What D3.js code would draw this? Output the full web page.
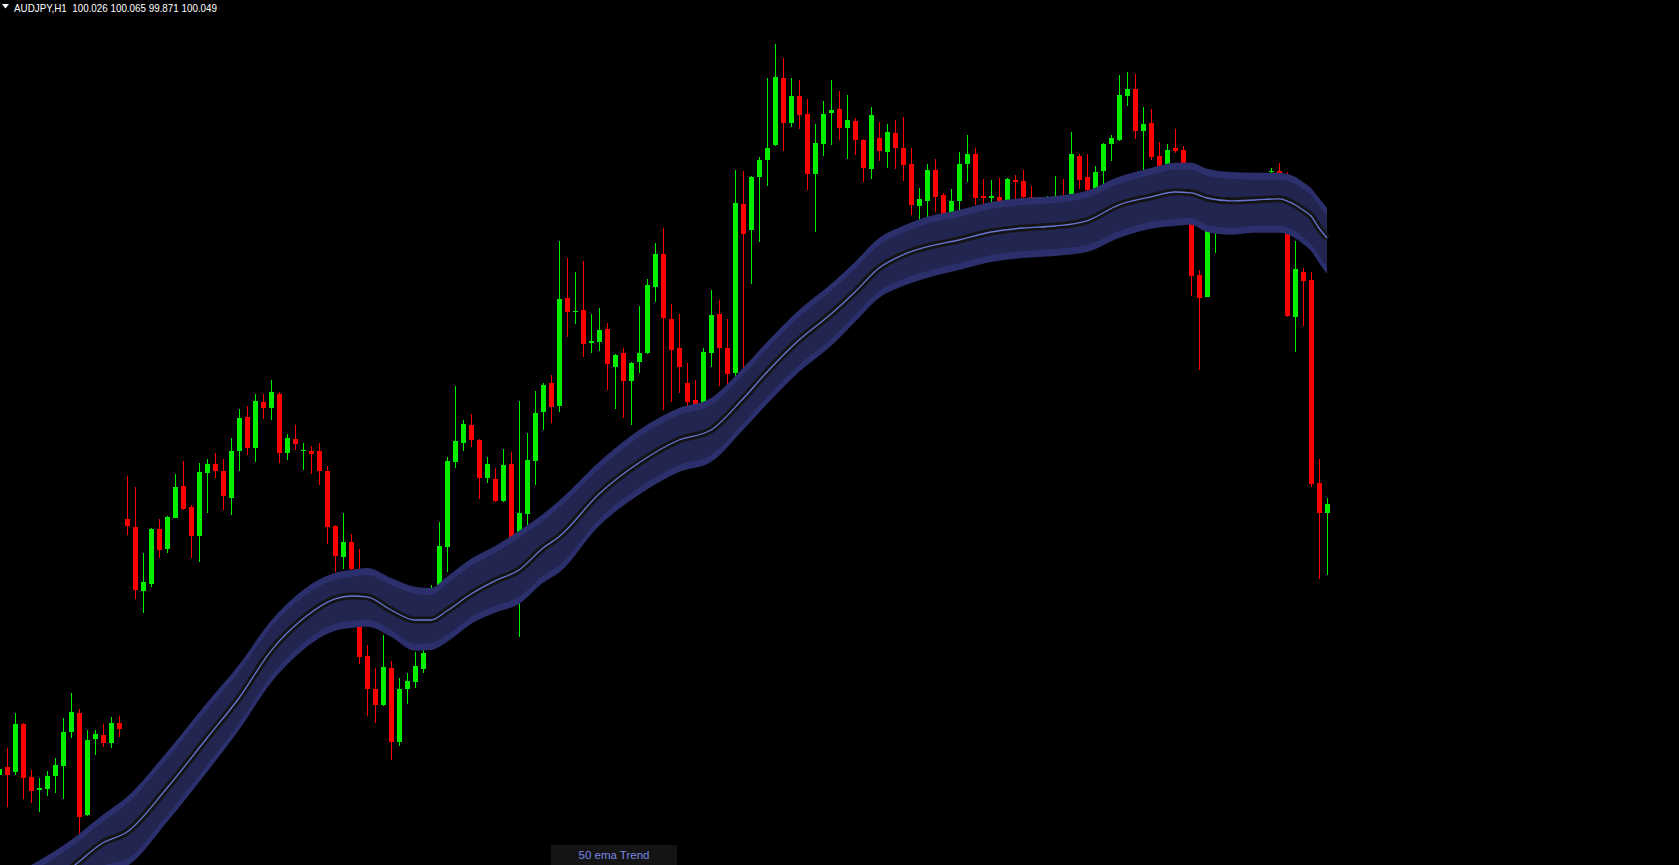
<!DOCTYPE html>
<html><head><meta charset="utf-8">
<script src="https://cdn.jsdelivr.net/npm/d3@7"></script>
<style>html,body{margin:0;padding:0;background:#000;overflow:hidden}</style>
</head><body>
<svg id="chart" width="1679" height="865"></svg>
<script>
const symbol = "AUDJPY,H1";
const indicatorName = "50 ema Trend";
const firstBar = -1;
const opens = [99.372,99.392,99.379,99.499,99.366,99.335,99.337,99.369,99.394,99.479,99.527,99.272,99.462,99.472,99.452,99.502,
100.012,99.992,99.832,99.850,99.987,99.937,100.015,100.094,100.042,99.970,100.127,100.149,100.132,100.065,100.182,100.267,100.190,100.304,100.290,100.324,100.177,100.212,100.182,100.182,100.182,100.132,99.995,
99.917,99.954,99.872,99.669,99.587,99.547,99.639,99.455,99.587,99.604,99.637,99.709,99.847,99.942,100.155,100.202,100.247,100.209,100.115,100.112,100.057,100.149,99.909,100.025,100.157,100.279,100.352,100.295,
100.564,100.530,100.534,100.452,100.455,100.487,100.392,100.427,100.357,100.405,100.427,100.592,100.674,100.512,100.440,100.352,100.309,100.297,100.427,100.524,100.439,100.377,100.799,100.734,100.867,100.909,
100.947,101.114,101.002,101.069,101.024,100.875,100.950,101.027,101.037,100.990,101.007,100.959,100.887,100.964,100.930,100.977,100.939,100.899,100.795,100.807,100.884,100.822,100.777,100.807,100.900,100.924,
100.819,100.815,100.817,100.807,100.859,100.857,100.817,100.802,100.797,100.816,100.809,100.824,100.919,100.867,100.837,100.882,100.950,100.960,101.070,101.087,100.982,101.002,100.919,100.897,100.939,100.934,
100.809,100.622,100.567,100.747,100.779,100.797,100.819,100.834,100.844,100.859,100.879,100.882,100.869,100.517,100.629,100.609,100.102,100.026];
const highs = [99.397,99.439,99.527,99.502,99.384,99.364,99.382,99.413,99.514,99.577,99.537,99.484,99.484,99.499,99.517,99.519,
100.119,100.092,99.927,99.989,100.012,100.019,100.124,100.157,100.047,100.152,100.162,100.177,100.162,100.214,100.287,100.294,100.324,100.324,100.359,100.329,100.224,100.247,100.202,100.194,100.202,100.144,99.997,
100.027,99.974,99.937,99.697,99.639,99.722,99.657,99.614,99.627,99.679,99.709,99.847,100.004,100.167,100.344,100.259,100.274,100.212,100.167,100.139,100.187,100.179,100.307,100.227,100.332,100.352,100.372,100.707,
100.664,100.629,100.657,100.524,100.539,100.502,100.424,100.439,100.404,100.544,100.612,100.702,100.739,100.549,100.524,100.402,100.359,100.439,100.584,100.559,100.512,100.884,100.882,100.869,100.917,101.114,
101.199,101.164,101.114,101.109,101.062,100.999,101.057,101.109,101.082,101.072,101.014,100.961,101.042,101.004,100.999,101.009,101.017,100.939,100.839,100.899,100.912,100.827,100.837,100.929,100.972,100.939,
100.862,100.859,100.864,100.864,100.872,100.884,100.844,100.812,100.819,100.869,100.862,100.979,100.924,100.924,100.894,100.952,100.972,101.122,101.129,101.124,101.042,101.037,100.954,100.949,100.987,100.944,
100.834,100.634,100.772,100.784,100.809,100.839,100.859,100.864,100.869,100.874,100.889,100.902,100.879,100.707,100.639,100.629,100.162,100.065];
const lows = [99.362,99.292,99.372,99.312,99.302,99.280,99.319,99.327,99.312,99.465,99.224,99.269,99.422,99.442,99.439,99.467,
99.972,99.812,99.777,99.842,99.915,99.927,100.013,100.035,99.915,99.905,100.027,100.115,100.035,100.022,100.132,100.172,100.155,100.262,100.259,100.152,100.160,100.185,100.135,100.125,100.097,99.950,99.880,
99.887,99.872,99.649,99.520,99.502,99.545,99.409,99.445,99.550,99.590,99.627,99.697,99.809,99.880,100.140,100.182,100.192,100.062,100.102,100.055,100.055,99.922,99.717,99.985,100.097,100.234,100.252,100.280,
100.467,100.500,100.417,100.427,100.432,100.335,100.287,100.264,100.247,100.377,100.425,100.555,100.285,100.305,100.327,100.279,100.247,100.272,100.392,100.344,100.347,100.357,100.347,100.599,100.704,100.844,
100.944,100.932,100.992,100.987,100.834,100.729,100.920,100.947,100.960,100.912,100.922,100.855,100.862,100.907,100.890,100.887,100.857,100.772,100.759,100.767,100.780,100.754,100.759,100.782,100.855,100.797,
100.799,100.805,100.803,100.789,100.809,100.809,100.812,100.779,100.784,100.797,100.779,100.809,100.837,100.822,100.822,100.842,100.907,100.957,101.045,100.962,100.885,100.910,100.884,100.884,100.927,100.872,
100.570,100.384,100.566,100.677,100.764,100.784,100.797,100.809,100.814,100.834,100.859,100.854,100.517,100.428,100.495,100.091,99.862,99.871];
const closes = [99.387,99.372,99.499,99.365,99.332,99.339,99.369,99.397,99.479,99.529,99.267,99.459,99.474,99.452,99.502,99.487,
99.995,99.835,99.854,99.987,99.935,100.017,100.092,100.037,99.970,100.129,100.149,100.132,100.070,100.182,100.264,100.190,100.307,100.290,100.329,100.177,100.214,100.200,100.184,100.175,100.132,99.992,99.920,
99.954,99.887,99.667,99.587,99.547,99.642,99.455,99.587,99.607,99.644,99.677,99.809,99.944,100.157,100.207,100.249,100.210,100.115,100.149,100.057,100.147,99.947,100.027,100.159,100.277,100.347,100.292,100.562,
100.530,100.532,100.450,100.457,100.484,100.400,100.422,100.357,100.402,100.427,100.597,100.674,100.515,100.435,100.392,100.304,100.259,100.429,100.522,100.439,100.374,100.802,100.724,100.867,100.909,100.939,
101.117,101.002,101.069,101.022,100.875,100.952,101.024,101.034,100.990,101.009,100.960,100.890,101.022,100.932,100.979,100.940,100.897,100.797,100.812,100.884,100.817,100.772,100.807,100.899,100.924,100.815,
100.815,100.819,100.805,100.862,100.854,100.817,100.814,100.792,100.812,100.819,100.794,100.924,100.860,100.834,100.879,100.949,100.964,101.072,101.087,100.982,100.999,100.917,100.894,100.934,100.932,100.902,
100.620,100.565,100.754,100.772,100.797,100.822,100.834,100.847,100.859,100.869,100.882,100.877,100.520,100.637,100.607,100.098,100.027,100.049];

const bandBars  = [0,8,12,15,20,25,29,33,37,41,43,45,48,51,53,55,58,61,64,67,69,74,79,84,88,92,95,99,103,106,109,112,115,119,123,127,131,135,139,143,146,148,150,153,156,159,161,162,163,164,165];
const bandUpper = [99.114,99.209,99.272,99.317,99.429,99.552,99.647,99.757,99.834,99.877,99.884,99.889,99.864,99.842,99.839,99.867,99.912,99.944,99.982,100.024,100.057,100.154,100.234,100.289,100.314,100.389,100.454,100.534,100.599,100.654,100.714,100.744,100.767,100.784,100.804,100.814,100.819,100.832,100.867,100.889,100.902,100.902,100.887,100.879,100.877,100.877,100.867,100.854,100.839,100.814,100.789];
const bandMid   = [99.044,99.139,99.202,99.229,99.339,99.464,99.564,99.682,99.762,99.812,99.819,99.817,99.784,99.759,99.759,99.782,99.824,99.857,99.884,99.939,99.967,100.074,100.152,100.209,100.234,100.312,100.379,100.459,100.524,100.579,100.639,100.672,100.692,100.709,100.729,100.739,100.744,100.757,100.797,100.817,100.829,100.827,100.814,100.807,100.809,100.812,100.797,100.784,100.769,100.739,100.714];
const bandLower = [98.969,99.064,99.127,99.144,99.254,99.379,99.484,99.602,99.684,99.732,99.739,99.742,99.717,99.682,99.684,99.704,99.749,99.777,99.799,99.852,99.877,99.994,100.072,100.129,100.154,100.234,100.299,100.379,100.444,100.504,100.564,100.594,100.614,100.634,100.654,100.664,100.669,100.679,100.714,100.737,100.744,100.747,100.729,100.722,100.727,100.727,100.714,100.699,100.682,100.652,100.624];

const W = 1679, H = 865;
const svg = d3.select("#chart");
svg.append("rect").attr("width", W).attr("height", H).attr("fill", "#000");

const bars = opens.map((o, i) => ({bar: firstBar + i, o, h: highs[i], l: lows[i], c: closes[i]}));
const lastBar = firstBar + opens.length - 1;
const x = d3.scaleLinear().domain([-1, lastBar]).range([-1, -1 + 8 * (lastBar + 1)]);
const y = d3.scaleLinear().domain([101.309, 99.1465]).range([0, H]);

const up = "#00ee00", down = "#ff0000";
const cg = svg.append("g").attr("shape-rendering", "crispEdges");
const candle = cg.selectAll("g").data(bars).join("g");
candle.append("rect")
  .attr("x", d => Math.round(x(d.bar)))
  .attr("width", 1)
  .attr("y", d => Math.round(y(d.h)))
  .attr("height", d => Math.max(1, Math.round(y(d.l)) - Math.round(y(d.h))))
  .attr("fill", d => d.c >= d.o ? up : down);
candle.append("rect")
  .attr("x", d => Math.round(x(d.bar)) - 2)
  .attr("width", 5)
  .attr("y", d => Math.round(y(Math.max(d.o, d.c))))
  .attr("height", d => Math.max(1, Math.round(y(Math.min(d.o, d.c))) - Math.round(y(Math.max(d.o, d.c)))))
  .attr("fill", d => d.c >= d.o ? up : down);

// EMA ribbon
const band = bandBars.map((b, i) => ({b, u: bandUpper[i], m: bandMid[i], l: bandLower[i]}));
const curve = d3.curveMonotoneX;
const outer = d3.area().curve(curve).x(d => x(d.b)).y0(d => y(d.l)).y1(d => y(d.u));
const inner = d3.area().curve(curve).x(d => x(d.b)).y0(d => y(d.l) - 7).y1(d => y(d.u) + 7);
const mid = d3.line().curve(curve).x(d => x(d.b)).y(d => y(d.m));
const bg = svg.append("g");
bg.append("path").attr("d", outer(band)).attr("fill", "#2b2f6b");
bg.append("path").attr("d", inner(band)).attr("fill", "#22254f");
bg.append("path").attr("d", mid(band)).attr("fill", "none").attr("stroke", "#141414").attr("stroke-width", 7);
bg.append("path").attr("d", mid(band)).attr("fill", "none").attr("stroke", "#6675d6").attr("stroke-width", 1.3);

// header
const last = bars[bars.length - 1];
svg.append("path").attr("d", "M2,4 L9,4 L5.5,8.5 Z").attr("fill", "#fff");
svg.append("text").attr("x", 14).attr("y", 12)
  .attr("fill", "#fff").attr("font-family", "Liberation Sans, Arial, sans-serif").attr("font-size", 11)
  .attr("textLength", 203).attr("lengthAdjust", "spacingAndGlyphs")
  .attr("xml:space", "preserve")
  .text(`${symbol}  ${last.o.toFixed(3)} ${last.h.toFixed(3)} ${last.l.toFixed(3)} ${last.c.toFixed(3)}`);

// indicator label
svg.append("rect").attr("x", 551).attr("y", 845).attr("width", 126).attr("height", 20).attr("fill", "#141414");
svg.append("text").attr("x", 614).attr("y", 859).attr("text-anchor", "middle")
  .attr("fill", "#7b86e0").attr("font-family", "Liberation Sans, Arial, sans-serif").attr("font-size", 11.5)
  .text(indicatorName);
</script>
</body></html>
